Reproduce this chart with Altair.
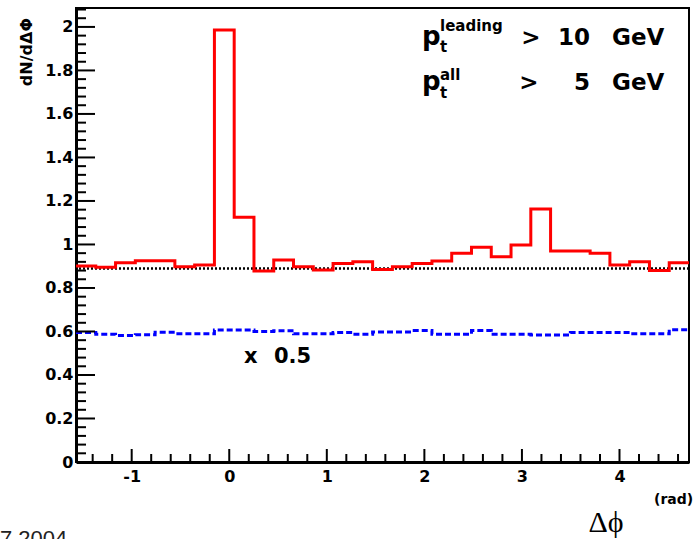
import altair as alt
import numpy as np
import pandas as pd

# ---- data ----
x_min, x_max = -np.pi / 2, 3 * np.pi / 2
n_bins = 31
red_vals = [0.901, 0.895, 0.916, 0.925, 0.925, 0.898, 0.906, 1.986, 1.125, 0.878,
            0.929, 0.898, 0.883, 0.913, 0.921, 0.885, 0.898, 0.913, 0.924, 0.960,
            0.987, 0.944, 0.998, 1.163, 0.970, 0.970, 0.960, 0.906, 0.921, 0.880,
            0.916]
blue_vals = [0.595, 0.587, 0.581, 0.585, 0.596, 0.590, 0.590, 0.607, 0.607, 0.600,
             0.603, 0.589, 0.589, 0.595, 0.587, 0.598, 0.598, 0.604, 0.587, 0.587,
             0.604, 0.587, 0.587, 0.584, 0.584, 0.595, 0.595, 0.595, 0.589, 0.589,
             0.608]
ref_level = 0.89
y_major = [0, 0.2, 0.4, 0.6, 0.8, 1, 1.2, 1.4, 1.6, 1.8, 2]
x_major = [-1, 0, 1, 2, 3, 4]
y_top = 2.087

edges = np.linspace(x_min, x_max, n_bins + 1)
y_minor = [v for v in np.round(np.arange(0, y_top, 0.04), 2) if round(v / 0.2, 6) % 1 != 0]
x_minor = [v for v in np.round(np.arange(-1.4, 4.7, 0.2), 1) if abs(v - round(v)) > 1e-6]

red_df = pd.DataFrame({"x": edges, "y": red_vals + [red_vals[-1]]})
blue_df = pd.DataFrame({"x": edges, "y": blue_vals + [blue_vals[-1]]})

W, H = 613, 454
BOLD = "DejaVu Sans"

xscale = alt.Scale(domain=[x_min, x_max], nice=False, zero=False)
yscale = alt.Scale(domain=[0, y_top], nice=False, zero=True)
xaxis = alt.Axis(values=x_major, labelExpr="'' + datum.value", ticks=False, grid=False,
                 domain=True, domainWidth=3, domainColor="black", labelFont=BOLD,
                 labelFontWeight="bold", labelFontSize=16, labelColor="black",
                 labelPadding=6, title=None, labelFlush=False, labelOverlap=False)
yaxis = alt.Axis(values=y_major, labelExpr="'' + datum.value", ticks=False, grid=False,
                 domain=True, domainWidth=3, domainColor="black", labelFont=BOLD,
                 labelFontWeight="bold", labelFontSize=16, labelColor="black",
                 labelPadding=3, title=None, labelFlush=False, labelOverlap=False)
X = alt.X("x:Q", scale=xscale, axis=xaxis)
Y = alt.Y("y:Q", scale=yscale, axis=yaxis)

blue = alt.Chart(blue_df).mark_line(interpolate="step-after", color="#0000ff",
                                     strokeWidth=3, strokeDash=[6, 3]).encode(x=X, y=Y)
dotted = alt.Chart(pd.DataFrame({"y": [ref_level]})).mark_rule(
    color="black", strokeWidth=2.5, strokeDash=[2, 2]).encode(y=Y)
red = alt.Chart(red_df).mark_line(interpolate="step-after", color="#ff0000",
                                   strokeWidth=3).encode(x=X, y=Y)

ytick_major = alt.Chart(pd.DataFrame({"y": y_major})).mark_rule(color="black", strokeWidth=2).encode(
    y=Y, x=alt.value(0), x2=alt.value(19))
ytick_minor = alt.Chart(pd.DataFrame({"y": y_minor})).mark_rule(color="black", strokeWidth=2).encode(
    y=Y, x=alt.value(0), x2=alt.value(10))
xtick_major = alt.Chart(pd.DataFrame({"x": x_major})).mark_rule(color="black", strokeWidth=2).encode(
    x=X, y=alt.value(H), y2=alt.value(H - 13))
xtick_minor = alt.Chart(pd.DataFrame({"x": x_minor})).mark_rule(color="black", strokeWidth=2).encode(
    x=X, y=alt.value(H), y2=alt.value(H - 8))


def txt(s, x, y, size, font=BOLD, weight="bold", align="left", baseline="alphabetic",
        angle=0, color="black"):
    return alt.Chart(pd.DataFrame({"t": [s]})).mark_text(
        font=font, fontWeight=weight, fontSize=size, align=align, baseline=baseline,
        angle=angle, color=color).encode(x=alt.value(x), y=alt.value(y), text="t:N")


texts = [
    txt("dN/dΔΦ", -49, 10, 16, align="right", baseline="middle", angle=270),
    txt("p", 346, 37, 26),
    txt("leading", 364, 23, 15),
    txt("t", 364, 44, 15),
    txt(">", 455, 37, 23, align="center"),
    txt("10", 514, 37, 23, align="right"),
    txt("GeV", 536, 37, 23),
    txt("p", 346, 82, 26),
    txt("all", 364, 72, 15),
    txt("t", 364, 90, 15),
    txt(">", 453, 82, 23, align="center"),
    txt("5", 514, 82, 23, align="right"),
    txt("GeV", 536, 82, 23),
    txt("x", 168, 355, 21),
    txt("0.5", 198, 355, 21),
    txt("(rad)", 578, 492, 14, baseline="middle"),
    txt("Δϕ", 530, 524, 30, font="Liberation Serif", weight="normal", align="center"),
    txt("7.2004", -76, 521, 22, font="Liberation Sans", weight="normal", baseline="top",
        color="#222222"),
]

chart = alt.layer(blue, dotted, red, ytick_major, ytick_minor, xtick_major, xtick_minor,
                  *texts).properties(
    width=W, height=H,
    autosize=alt.AutoSizeParams(type="none"),
    padding={"left": 76, "top": 8, "right": 7, "bottom": 77},
    background="white",
).configure_view(stroke="black", strokeWidth=2)

chart.save("out.html", embed_options={"renderer": "svg", "actions": False})
